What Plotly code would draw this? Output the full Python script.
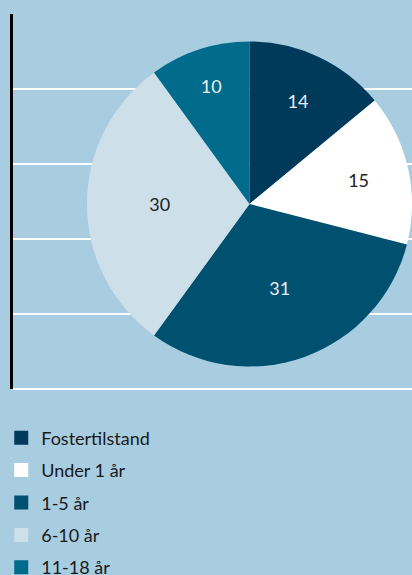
import plotly.graph_objects as go

labels = ["Fostertilstand", "Under 1 år", "1-5 år", "6-10 år", "11-18 år"]
values = [14, 15, 31, 30, 10]
colors = ["#003a5a", "#ffffff", "#00506f", "#cddfe9", "#006b8b"]
text_colors = ["#e8eef2", "#222222", "#e8eef2", "#222222", "#e8eef2"]

grid_ticks = [0, 1, 2, 3, 4, 5]

W, H = 412, 575
FONT = "Lato, Roboto, sans-serif"

fig = go.Figure()

fig.add_trace(go.Pie(
    labels=labels,
    values=values,
    marker=dict(colors=colors, line=dict(width=0)),
    sort=False,
    direction="clockwise",
    rotation=0,
    textinfo="value",
    textposition="inside",
    insidetextorientation="horizontal",
    insidetextfont=dict(color=text_colors, size=18, family=FONT),
    showlegend=False,
    hoverinfo="label+value",
    domain=dict(x=[87 / W, 1], y=[(H - 366.5) / H, (H - 41.5) / H]),
))

# legend entries, one group each so they get the spacing of the original
for lab, col in zip(labels, colors):
    fig.add_trace(go.Scatter(
        x=[None], y=[None], mode="markers", name=lab, legendgroup=lab,
        marker=dict(symbol="square", size=14, color=col),
    ))

fig.update_layout(
    width=W, height=H,
    margin=dict(l=0, r=0, t=0, b=0, autoexpand=False),
    paper_bgcolor="#a8cde0",
    plot_bgcolor="#a8cde0",
    font=dict(family=FONT, size=18, color="#1a1a1a"),
    xaxis=dict(domain=[13 / W, 1], range=[0, 1], visible=False, fixedrange=True),
    yaxis=dict(
        domain=[(H - 389) / H, (H - 14) / H], range=[grid_ticks[0], grid_ticks[-1]],
        tickvals=grid_ticks, showticklabels=False, ticks="",
        showgrid=True, gridcolor="white", gridwidth=2,
        zeroline=True, zerolinecolor="white", zerolinewidth=2,
        showline=True, linecolor="black", linewidth=3, fixedrange=True,
    ),
    legend=dict(
        x=0.003, xanchor="left", y=(H - 419.5) / H, yanchor="top",
        bgcolor="rgba(0,0,0,0)", traceorder="grouped", tracegroupgap=6,
        font=dict(family=FONT, size=18, color="#1a1a1a"),
    ),
)

# the page body has a default 8px margin; drop it so the figure fills the window
fig.write_html("out.html", config={"displayModeBar": False},
               post_script="document.body.style.margin='0';")
